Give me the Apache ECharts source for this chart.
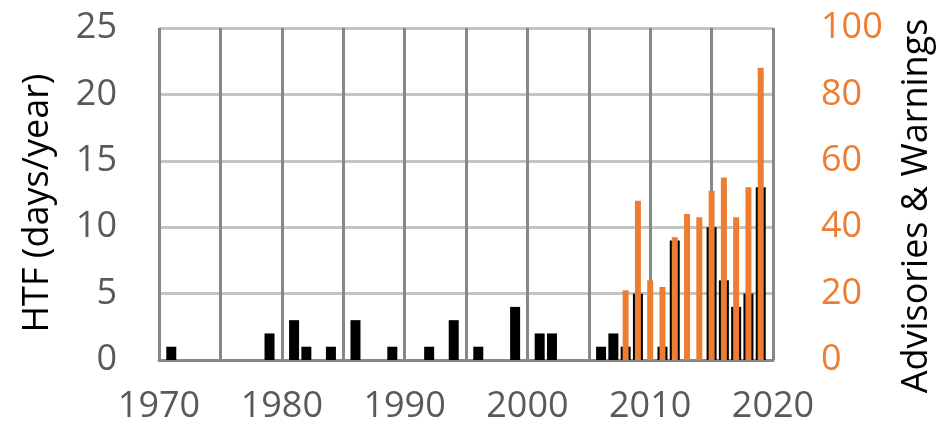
<!DOCTYPE html>
<html>
<head>
<meta charset="utf-8">
<script src="https://cdn.jsdelivr.net/npm/echarts@6/dist/echarts.min.js"></script>
<style>
html,body{margin:0;padding:0;background:#fff;}
#chart{width:943px;height:425px;}
</style>
</head>
<body>
<div id="chart"></div>
<script>
// Data
const htfYears = [1971, 1979, 1981, 1982, 1984, 1986, 1989, 1992, 1994, 1996, 1999, 2001, 2002, 2006, 2007, 2008, 2009, 2011, 2012, 2015, 2016, 2017, 2018, 2019];
const htfDays  = [1,    2,    3,    1,    1,    3,    1,    1,    3,    1,    4,    2,    2,    1,    2,    1,    5,    1,    9,    10,   6,    4,    5,    13];
const advYears = [2008, 2009, 2010, 2011, 2012, 2013, 2014, 2015, 2016, 2017, 2018, 2019];
const advCounts = [21,  48,   24,   22,   37,   44,   43,   51,   55,   43,   52,   88];
const leftTicks = [0, 5, 10, 15, 20, 25];
const rightTicks = [0, 20, 40, 60, 80, 100];
const yearLabels = [1970, 1980, 1990, 2000, 2010, 2020];
const leftTitle = 'HTF (days/year)';
const rightTitle = 'Advisories & Warnings';

const FONT = '"Open Sans", "Liberation Sans", sans-serif';
const chart = echarts.init(document.getElementById('chart'), null, {renderer: 'canvas'});

const htfData = htfYears.map((y, i) => [y, htfDays[i]]);
const advData = advYears.map((y, i) => [y, advCounts[i]]);

chart.setOption({
  animation: false,
  backgroundColor: '#ffffff',
  grid: {left: 159, right: 170, top: 28, bottom: 65, containLabel: false},
  graphic: [
    {
      type: 'text', x: 38, y: 203, rotation: Math.PI / 2,
      style: {text: leftTitle, fill: '#000000', font: '36px ' + FONT, align: 'center', verticalAlign: 'middle'}
    },
    {
      type: 'text', x: 917, y: 206, rotation: Math.PI / 2,
      style: {text: rightTitle, fill: '#000000', font: '36px ' + FONT, align: 'center', verticalAlign: 'middle'}
    }
  ],
  xAxis: [
    {
      type: 'value', min: yearLabels[0], max: yearLabels[yearLabels.length - 1], interval: 5,
      axisLine: {show: true, lineStyle: {color: '#888888', width: 3}},
      axisTick: {show: false},
      axisLabel: {
        color: '#595959', fontFamily: FONT, fontSize: 36, margin: 29,
        formatter: v => (yearLabels.indexOf(v) >= 0 ? String(v) : '')
      },
      splitLine: {show: true, lineStyle: {color: '#878787', width: 3}},
      z: 3
    },
    {
      type: 'value', min: yearLabels[0], max: yearLabels[yearLabels.length - 1],
      show: false
    }
  ],
  yAxis: [
    {
      type: 'value', min: leftTicks[0], max: leftTicks[leftTicks.length - 1], interval: 5,
      axisLine: {show: false},
      axisTick: {show: false},
      axisLabel: {color: '#595959', fontFamily: FONT, fontSize: 36, margin: 42},
      splitLine: {show: true, lineStyle: {color: '#c4c4c4', width: 3}}
    },
    {
      type: 'value', min: rightTicks[0], max: rightTicks[rightTicks.length - 1], interval: 20,
      position: 'right',
      axisLine: {show: false},
      axisTick: {show: false},
      axisLabel: {color: '#ED7D31', fontFamily: FONT, fontSize: 36, margin: 48},
      splitLine: {show: false}
    }
  ],
  series: [
    {
      name: 'HTF', type: 'bar', xAxisIndex: 0, yAxisIndex: 0,
      data: htfData, barWidth: 10,
      itemStyle: {color: '#000000'}, z: 4
    },
    {
      name: 'Advisories & Warnings', type: 'bar', xAxisIndex: 1, yAxisIndex: 1,
      data: advData, barWidth: 6,
      itemStyle: {color: '#ED7D31'}, z: 5
    }
  ]
});
</script>
</body>
</html>
